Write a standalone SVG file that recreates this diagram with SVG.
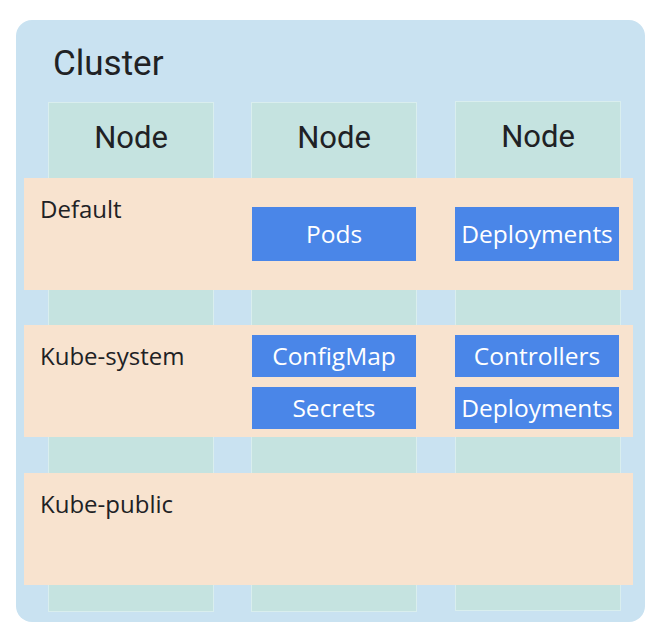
<svg xmlns="http://www.w3.org/2000/svg" width="655" height="635" viewBox="0 0 655 635">
<style>
.node{fill:#c5e3e0;stroke:#d9eeee;stroke-width:1}
.band{fill:#f8e3cf}
.box{fill:#4a86e8}
.t{font-family:Roboto,"Liberation Sans",sans-serif;fill:#202124}
.lt{font-family:"Open Sans","Liberation Sans",sans-serif;fill:#202124;font-size:24px}
.bt{font-family:"Open Sans","Liberation Sans",sans-serif;fill:#ffffff;font-size:24.5px;text-anchor:middle}
</style>
<rect width="655" height="635" fill="#ffffff"/>
<g id="cluster">
<rect x="16" y="20" width="629" height="602" rx="16" fill="#c9e2f1"/>
<text class="t" x="53" y="75" font-size="35">Cluster</text>
</g>
<g id="node1"><rect class="node" x="48.5" y="102.5" width="165" height="509"/><text class="t" x="131" y="148" font-size="31" text-anchor="middle">Node</text></g>
<g id="node2"><rect class="node" x="251.5" y="102.5" width="165" height="509"/><text class="t" x="334" y="148" font-size="31" text-anchor="middle">Node</text></g>
<g id="node3"><rect class="node" x="455.5" y="101.5" width="165" height="509"/><text class="t" x="538" y="147" font-size="31" text-anchor="middle">Node</text></g>
<g id="default"><rect class="band" x="24" y="178" width="609" height="112"/><text class="lt" x="40" y="218">Default</text></g>
<g id="kube-system"><rect class="band" x="24" y="325" width="609" height="112"/><text class="lt" x="40" y="365">Kube-system</text></g>
<g id="kube-public"><rect class="band" x="24" y="473" width="609" height="112"/><text class="lt" x="40" y="513">Kube-public</text></g>
<g id="pods"><rect class="box" x="252" y="207" width="164" height="54"/><text class="bt" x="334" y="243">Pods</text></g>
<g id="deployments-default"><rect class="box" x="455" y="207" width="164" height="54"/><text class="bt" x="537" y="243">Deployments</text></g>
<g id="configmap"><rect class="box" x="252" y="335" width="164" height="42"/><text class="bt" x="334" y="365">ConfigMap</text></g>
<g id="secrets"><rect class="box" x="252" y="387" width="164" height="42"/><text class="bt" x="334" y="417">Secrets</text></g>
<g id="controllers"><rect class="box" x="455" y="335" width="164" height="42"/><text class="bt" x="537" y="365">Controllers</text></g>
<g id="deployments-system"><rect class="box" x="455" y="387" width="164" height="42"/><text class="bt" x="537" y="417">Deployments</text></g>
<g id="connectors"></g>
</svg>
